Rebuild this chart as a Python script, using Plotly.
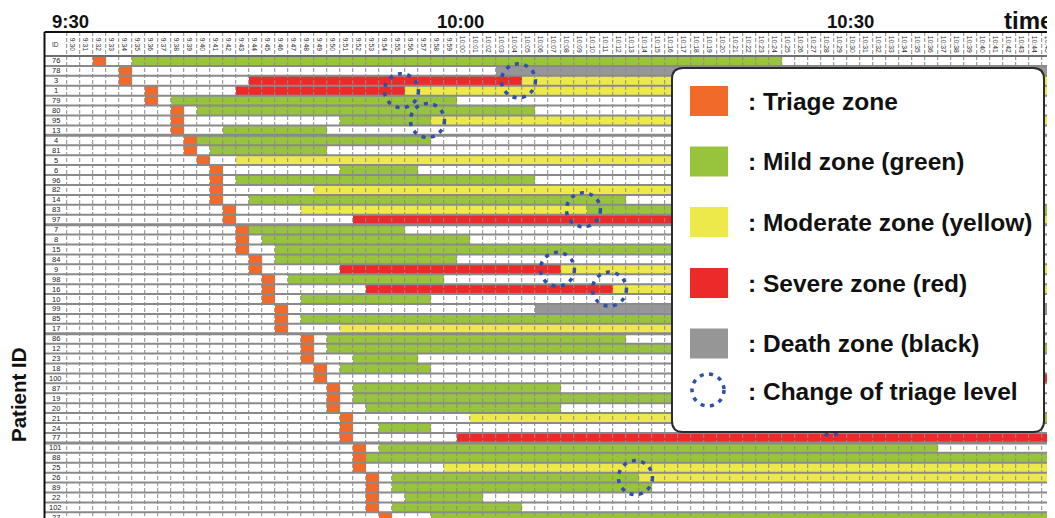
import plotly.graph_objects as go

# ---------------- data ----------------
minutes = ["9:30", "9:31", "9:32", "9:33", "9:34", "9:35", "9:36", "9:37", "9:38", "9:39",
           "9:40", "9:41", "9:42", "9:43", "9:44", "9:45", "9:46", "9:47", "9:48", "9:49",
           "9:50", "9:51", "9:52", "9:53", "9:54", "9:55", "9:56", "9:57", "9:58", "9:59",
           "10:00", "10:01", "10:02", "10:03", "10:04", "10:05", "10:06", "10:07", "10:08", "10:09",
           "10:10", "10:11", "10:12", "10:13", "10:14", "10:15", "10:16", "10:17", "10:18", "10:19",
           "10:20", "10:21", "10:22", "10:23", "10:24", "10:25", "10:26", "10:27", "10:28", "10:29",
           "10:30", "10:31", "10:32", "10:33", "10:34", "10:35", "10:36", "10:37", "10:38", "10:39",
           "10:40", "10:41", "10:42", "10:43", "10:44", "10:45"]

patient_ids = ["76", "78", "3", "1", "79", "80", "95", "13", "4", "81", "5", "6", "96", "82",
               "14", "83", "97", "7", "8", "15", "84", "9", "98", "16", "10", "99", "85", "17",
               "86", "12", "23", "18", "100", "87", "19", "20", "21", "24", "77", "101", "88",
               "25", "26", "89", "22", "102", "27"]

zone_keys = ["T", "G", "Y", "R", "D"]
zone_labels = [": Triage zone", ": Mild zone (green)", ": Moderate zone (yellow)",
               ": Severe zone (red)", ": Death zone (black)"]
change_label = ": Change of triage level"

# (zone, first minute, last minute)
segments = {
    "76": [("T", "9:32", "9:32"), ("G", "9:35", "10:24")],
    "78": [("T", "9:34", "9:34"), ("D", "10:03", "10:45")],
    "3": [("T", "9:34", "9:34"), ("R", "9:44", "10:04"), ("Y", "10:05", "10:45")],
    "1": [("T", "9:36", "9:36"), ("R", "9:43", "9:55"), ("Y", "9:56", "10:45")],
    "79": [("T", "9:36", "9:36"), ("G", "9:38", "9:59")],
    "80": [("T", "9:38", "9:38"), ("G", "9:40", "10:05")],
    "95": [("T", "9:38", "9:38"), ("G", "9:51", "9:57"), ("Y", "9:58", "10:45")],
    "13": [("T", "9:38", "9:38"), ("G", "9:42", "9:49")],
    "4": [("T", "9:39", "9:39"), ("G", "9:40", "9:57")],
    "81": [("T", "9:39", "9:39"), ("G", "9:41", "9:49")],
    "5": [("T", "9:40", "9:40"), ("Y", "9:43", "10:38")],
    "6": [("T", "9:41", "9:41"), ("G", "9:51", "9:56")],
    "96": [("T", "9:41", "9:41"), ("G", "9:43", "10:05")],
    "82": [("T", "9:41", "9:41"), ("Y", "9:49", "10:35")],
    "14": [("T", "9:41", "9:41"), ("G", "9:44", "10:12")],
    "83": [("T", "9:42", "9:42"), ("Y", "9:48", "10:09"), ("G", "10:10", "10:45")],
    "97": [("T", "9:42", "9:42"), ("R", "9:52", "10:40"), ("Y", "10:41", "10:45")],
    "7": [("T", "9:43", "9:43"), ("G", "9:44", "9:55")],
    "8": [("T", "9:43", "9:43"), ("G", "9:45", "10:00")],
    "15": [("T", "9:43", "9:43"), ("G", "9:46", "10:30")],
    "84": [("T", "9:44", "9:44"), ("G", "9:46", "9:59")],
    "9": [("T", "9:44", "9:44"), ("R", "9:51", "10:07"), ("Y", "10:08", "10:45")],
    "98": [("T", "9:45", "9:45"), ("G", "9:47", "9:58")],
    "16": [("T", "9:45", "9:45"), ("R", "9:53", "10:11"), ("Y", "10:12", "10:45")],
    "10": [("T", "9:45", "9:45"), ("G", "9:48", "9:57")],
    "99": [("T", "9:46", "9:46"), ("D", "10:06", "10:45")],
    "85": [("T", "9:46", "9:46"), ("G", "9:48", "10:35")],
    "17": [("T", "9:46", "9:46"), ("Y", "9:51", "10:35")],
    "86": [("T", "9:48", "9:48"), ("G", "9:50", "10:12")],
    "12": [("T", "9:48", "9:48"), ("G", "9:50", "10:45")],
    "23": [("T", "9:48", "9:48"), ("G", "9:52", "9:56")],
    "18": [("T", "9:49", "9:49"), ("G", "9:51", "9:57")],
    "100": [("T", "9:49", "9:49"), ("R", "10:25", "10:45")],
    "87": [("T", "9:50", "9:50"), ("G", "9:52", "10:07")],
    "19": [("T", "9:50", "9:50"), ("G", "9:52", "10:35")],
    "20": [("T", "9:50", "9:50"), ("G", "9:53", "10:07")],
    "21": [("T", "9:51", "9:51"), ("Y", "10:01", "10:28"), ("G", "10:29", "10:45")],
    "24": [("T", "9:51", "9:51"), ("G", "9:54", "9:57")],
    "77": [("T", "9:51", "9:51"), ("R", "10:00", "10:45")],
    "101": [("T", "9:52", "9:52"), ("G", "9:54", "10:36")],
    "88": [("T", "9:52", "9:52"), ("G", "9:53", "10:45")],
    "25": [("T", "9:52", "9:52"), ("Y", "9:59", "10:45")],
    "26": [("T", "9:53", "9:53"), ("G", "9:55", "10:13"), ("Y", "10:14", "10:45")],
    "89": [("T", "9:53", "9:53"), ("G", "9:55", "10:14")],
    "22": [("T", "9:53", "9:53"), ("G", "9:56", "10:01")],
    "102": [("T", "9:53", "9:53"), ("G", "9:55", "10:04")],
    "27": [("T", "9:54", "9:54"), ("G", "9:58", "10:45")],
}

# triage level changes marked with dotted circles (patient, minute of change)
level_changes = [("3", "10:05"), ("1", "9:56"), ("95", "9:58"), ("83", "10:10"),
                 ("9", "10:08"), ("16", "10:12"), ("26", "10:14"), ("21", "10:29")]

hour_marks = ["9:30", "10:00", "10:30"]
axis_title_x = "time"
axis_title_y = "Patient ID"
id_header = "ID"
group_breaks_after = ["13", "97", "17", "77"]

# ---------------- styles ----------------
OFF = 8                      # page body margin
W, H = 1055 - OFF, 518 - OFF
X0PX, CW = 73.2, 13.0        # reference pixel centre of first minute column, column width
Y0PX, RH = 60.96, 9.92       # reference pixel centre of first patient row, row height
FONT = "Liberation Sans, Arial, sans-serif"
zone_colors = ["#F26A2A", "#97C33D", "#EEE94A", "#EC2A2A", "#969696"]
circle_color = "#2F4FA8"


def px2x(px):
    return (px - X0PX) / CW


def px2y(py):
    return (py - Y0PX) / RH


def paper(px, py):
    return (px - OFF) / W, 1 - (py - OFF) / H


col_of = {m: i for i, m in enumerate(minutes)}
row_of = {p: i for i, p in enumerate(patient_ids)}

z = []
for pid in patient_ids:
    row = [0] * len(minutes)
    for k, a, b in segments[pid]:
        for j in range(col_of[a], col_of[b] + 1):
            row[j] = zone_keys.index(k) + 1
    z.append(row)

all_colors = ["#FFFFFF"] + zone_colors
n = len(all_colors)
cscale = []
for i, c in enumerate(all_colors):
    cscale += [[i / n, c], [(i + 1) / n, c]]

fig = go.Figure(go.Heatmap(
    x=minutes, y=patient_ids, z=z, colorscale=cscale,
    zmin=-0.5, zmax=n - 0.5, showscale=False, hoverinfo="skip"))

shapes = []
header_top = px2y(32)
id_left = px2x(44.5)
nrow, ncol = len(patient_ids), len(minutes)

# vertical dashed grid lines
for i in range(ncol + 1):
    shapes.append(dict(type="line", xref="x", yref="y", x0=i - 0.5, x1=i - 0.5,
                       y0=header_top, y1=nrow + 1,
                       line=dict(color="#8C8C8C", width=1, dash="4px,2px")))
# horizontal grid lines
thick = [row_of[p] + 1 for p in group_breaks_after]
for k in range(nrow + 1):
    w = 3 if k in thick else 2
    col = "#6E6E6E" if k == 0 else "#8A8A8A"
    shapes.append(dict(type="line", xref="x", yref="y", x0=id_left, x1=ncol + 1,
                       y0=k - 0.5, y1=k - 0.5, line=dict(color=col, width=w)))
# outer borders
shapes.append(dict(type="line", xref="x", yref="y", x0=id_left, x1=ncol + 1,
                   y0=header_top, y1=header_top, line=dict(color="#111111", width=2)))
shapes.append(dict(type="line", xref="x", yref="y", x0=id_left, x1=id_left,
                   y0=header_top, y1=nrow + 1, line=dict(color="#111111", width=2)))

# dotted circles for triage level change
rx, ry = 17 / CW, 17 / RH
for pid, m in level_changes:
    cx, cy = col_of[m] - 0.75, row_of[pid]
    shapes.append(dict(type="circle", xref="x", yref="y",
                       x0=cx - rx, x1=cx + rx, y0=cy - ry, y1=cy + ry,
                       line=dict(color=circle_color, width=3.5, dash="4px,5.5px")))

# legend box (rounded)
bx0, by0, bx1, by1, r = 672, 68, 1044, 432, 11


def P(px, py):
    a, b = paper(px, py)
    return f"{a:.5f},{b:.5f}"


path = (f"M {P(bx0 + r, by0)} L {P(bx1 - r, by0)} Q {P(bx1, by0)} {P(bx1, by0 + r)} "
        f"L {P(bx1, by1 - r)} Q {P(bx1, by1)} {P(bx1 - r, by1)} "
        f"L {P(bx0 + r, by1)} Q {P(bx0, by1)} {P(bx0, by1 - r)} "
        f"L {P(bx0, by0 + r)} Q {P(bx0, by0)} {P(bx0 + r, by0)} Z")
shapes.append(dict(type="path", xref="paper", yref="paper", path=path,
                   fillcolor="white", line=dict(color="#2B2B2B", width=2)))

annotations = []
leg_y = [101, 161.5, 222, 283, 343.5]
for yc, c, lab in zip(leg_y, zone_colors, zone_labels):
    xa, ya = paper(690, yc - 15)
    xb, yb = paper(728, yc + 15)
    shapes.append(dict(type="rect", xref="paper", yref="paper", x0=xa, x1=xb, y0=yb, y1=ya,
                       fillcolor=c, line=dict(width=0)))
    tx, ty = paper(746, yc)
    annotations.append(dict(xref="paper", yref="paper", x=tx, y=ty, text=f"<b>{lab}</b>",
                            showarrow=False, xanchor="left", yanchor="middle",
                            font=dict(family=FONT, size=24.5, color="#111111")))
cxp, cyp = 708, 390
xa, ya = paper(cxp - 16, cyp - 16)
xb, yb = paper(cxp + 16, cyp + 16)
shapes.append(dict(type="circle", xref="paper", yref="paper", x0=xa, x1=xb, y0=yb, y1=ya,
                   line=dict(color=circle_color, width=3.5, dash="4px,5.5px")))
tx, ty = paper(746, 391)
annotations.append(dict(xref="paper", yref="paper", x=tx, y=ty, text=f"<b>{change_label}</b>",
                        showarrow=False, xanchor="left", yanchor="middle",
                        font=dict(family=FONT, size=24.5, color="#111111")))

# header minute labels
hy = px2y(44)
for i, m in enumerate(minutes):
    annotations.append(dict(xref="x", yref="y", x=i, y=hy, text=m, textangle=90,
                            showarrow=False, xanchor="center", yanchor="middle",
                            font=dict(family=FONT, size=6.8, color="#333333")))
idx = px2x(55.5)
annotations.append(dict(xref="x", yref="y", x=idx, y=hy, text=id_header, showarrow=False,
                        font=dict(family=FONT, size=6.5, color="#333333")))
for i, p in enumerate(patient_ids):
    annotations.append(dict(xref="x", yref="y", x=idx, y=i, text=p, showarrow=False,
                            xanchor="center", yanchor="middle",
                            font=dict(family=FONT, size=7.5, color="#222222")))

# big hour labels
for m in hour_marks:
    annotations.append(dict(xref="x", yref="y", x=col_of[m] - 0.2, y=px2y(21.5),
                            text=f"<b>{m}</b>", showarrow=False, xanchor="center",
                            yanchor="middle", font=dict(family=FONT, size=18.5, color="#111111")))
annotations.append(dict(xref="x", yref="y", x=px2x(1028), y=px2y(20.5),
                        text=f"<b>{axis_title_x}</b>", showarrow=False, xanchor="center",
                        yanchor="middle", font=dict(family=FONT, size=24, color="#111111")))
annotations.append(dict(xref="x", yref="y", x=px2x(18), y=px2y(395),
                        text=f"<b>{axis_title_y}</b>", showarrow=False, textangle=-90,
                        xanchor="center", yanchor="middle",
                        font=dict(family=FONT, size=20.5, color="#111111")))

fig.update_layout(
    width=W, height=H, autosize=False,
    margin=dict(l=0, r=0, t=0, b=0, pad=0),
    paper_bgcolor="white", plot_bgcolor="white",
    xaxis=dict(type="category", categoryorder="array", categoryarray=minutes,
               range=[px2x(OFF), px2x(OFF + W)], visible=False, fixedrange=True),
    yaxis=dict(type="category", categoryorder="array", categoryarray=patient_ids,
               range=[px2y(OFF + H), px2y(OFF)], visible=False, fixedrange=True),
    shapes=shapes, annotations=annotations, showlegend=False,
)

fig.write_html("out.html")
